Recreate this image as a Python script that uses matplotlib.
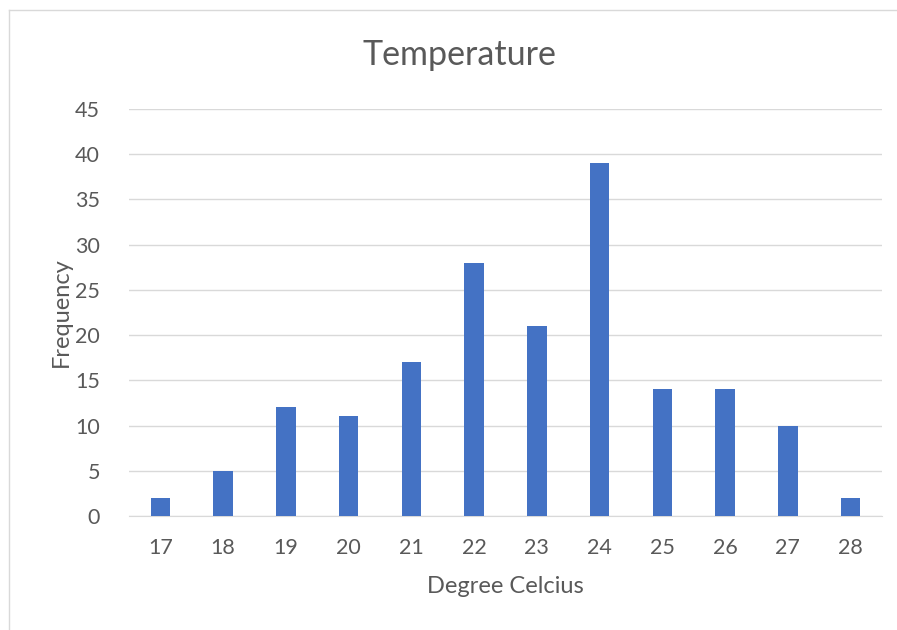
import matplotlib.pyplot as plt
from matplotlib.lines import Line2D

degrees = ["17", "18", "19", "20", "21", "22", "23", "24", "25", "26", "27", "28"]
frequency = [2, 5, 12, 11, 17, 28, 21, 39, 14, 14, 10, 2]

plt.rcParams["font.family"] = ["Lato", "DejaVu Sans"]
text_color = "#595959"

fig = plt.figure(figsize=(8.97, 6.3), dpi=100)
ax = fig.add_axes([0.1438, 0.181, 0.8395, 0.646])

x = range(len(degrees))
ax.bar(x, frequency, width=0.31, color="#4472C4", zorder=3)

ax.set_xlim(-0.5, len(degrees) - 0.5)
ax.set_ylim(0, 45)
ax.set_yticks(range(0, 46, 5))
ax.set_xticks(list(x))
ax.set_xticklabels(degrees)
ax.grid(axis="y", color="#D9D9D9", linewidth=1, zorder=0)
for s in ["top", "right", "left"]:
    ax.spines[s].set_visible(False)
ax.spines["bottom"].set_color("#D9D9D9")
ax.tick_params(length=0, labelsize=15.5, colors=text_color)
ax.tick_params(axis="x", pad=16)
ax.tick_params(axis="y", pad=21)

fig.text(0.512, 0.913, "Temperature", fontsize=24.5, color=text_color, ha="center", va="center")
ax.set_xlabel("Degree Celcius", fontsize=17, color=text_color, labelpad=13)
ax.set_ylabel("Frequency", fontsize=17, color=text_color, labelpad=2)

# chart frame (only left and top edges visible)
fig.add_artist(Line2D([0.0105, 0.0105], [0, 0.984], transform=fig.transFigure, color="#D9D9D9", linewidth=1))
fig.add_artist(Line2D([0.0105, 1.0], [0.984, 0.984], transform=fig.transFigure, color="#D9D9D9", linewidth=1))

fig.savefig("out.png", dpi=100)
